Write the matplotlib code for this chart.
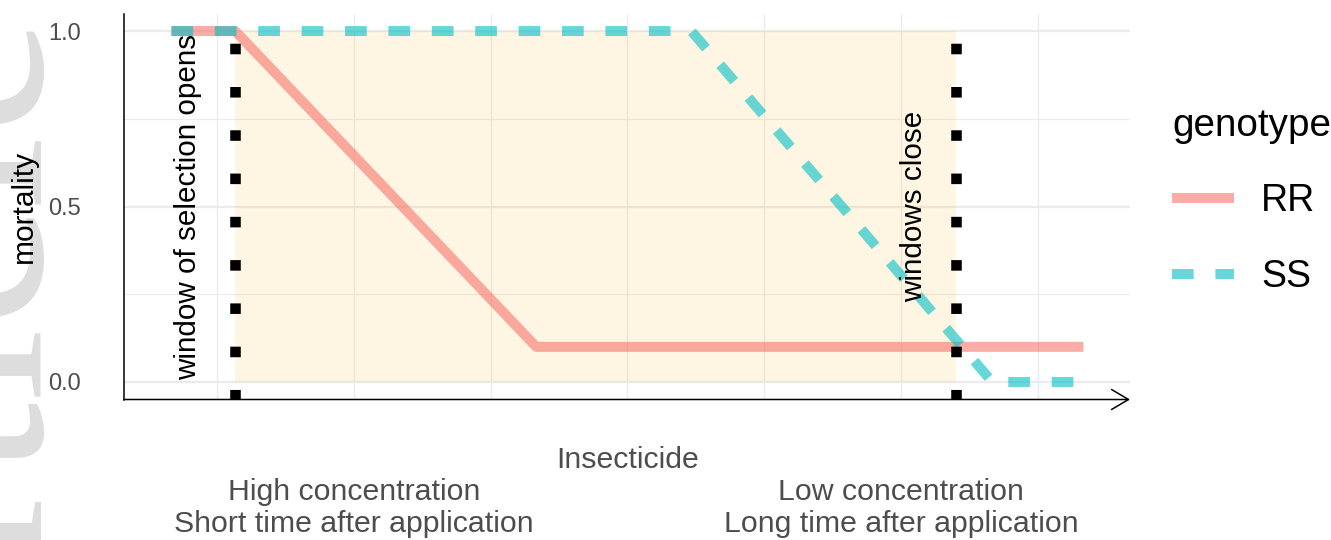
import matplotlib
matplotlib.use('Agg')
import matplotlib.pyplot as plt
import matplotlib.transforms as mtransforms
from matplotlib.patches import Rectangle

plt.rcParams['font.family'] = ['Liberation Sans', 'DejaVu Sans']

# ---------------- data ----------------
genotypes = ['RR', 'SS']
rr_x = [0, 7, 40, 100]
rr_y = [1.0, 1.0, 0.1, 0.1]
ss_x = [0, 57, 90, 100]
ss_y = [1.0, 1.0, 0.0, 0.0]
window_open = 7
window_close = 86
y_ticks = [0.0, 0.5, 1.0]
y_tick_labels = ['0.0', '0.5', '1.0']
y_minor = [0.25, 0.75]
x_grid = [5, 20, 35, 50, 65, 80, 95]
x_label_pos = [20, 80]
x_label_top = ['High concentration', 'Low concentration']
x_label_bottom = ['Short time after application', 'Long time after application']
x_title = 'Insecticide'
y_title = 'mortality'
text_open = 'window of selection opens'
text_close = 'windows close'
legend_title = 'genotype'
watermark = 'Article'

colors = {'RR': '#F8766D', 'SS': '#00BFC4'}

W, H = 1331, 540
fig = plt.figure(figsize=(W / 100, H / 100), dpi=100)

# faint watermark at the left edge
fig.text(39 / W, 1 - 13 / H, watermark, rotation=90, rotation_mode='anchor',
         ha='right', va='baseline', fontsize=192, color='#DDDDDD',
         family='Liberation Serif', zorder=0)

ax = fig.add_axes([124 / W, 1 - 399.5 / H, 1006 / W, 386 / H])
ax.patch.set_alpha(0)
ax.set_xlim(-5.2, 105.1)
ax.set_ylim(-0.05, 1.05)

# grid
ax.set_yticks(y_ticks)
ax.set_yticklabels(y_tick_labels)
ax.set_yticks(y_minor, minor=True)
ax.set_xticks(x_grid)
ax.set_xticklabels([])
ax.grid(which='major', axis='y', color='#EBEBEB', lw=1.6, zorder=0)
ax.grid(which='minor', axis='y', color='#EBEBEB', lw=0.85, zorder=0)
ax.grid(which='major', axis='x', color='#EBEBEB', lw=0.95, zorder=0)
ax.set_axisbelow(True)
ax.tick_params(axis='both', which='both', length=0)
ax.tick_params(axis='y', pad=31, labelsize=17, labelcolor='#4D4D4D')

for s in ['top', 'right', 'bottom']:
    ax.spines[s].set_visible(False)
ax.spines['left'].set_linewidth(1.1)
ax.spines['left'].set_color('black')

# x axis with arrow
ax.annotate('', xy=(1, 0), xytext=(0, 0), xycoords='axes fraction',
            textcoords='axes fraction', annotation_clip=False,
            arrowprops=dict(arrowstyle='->,head_length=1.22,head_width=0.72',
                            lw=1.1, color='black', shrinkA=0, shrinkB=0,
                            mutation_scale=10))

# selection window
ax.add_patch(Rectangle((window_open, 0), window_close - window_open, 1,
                       facecolor='orange', alpha=0.11, lw=0, zorder=1))

# curves
ax.plot(rr_x, rr_y, color=colors['RR'], alpha=0.6, lw=7.2,
        solid_capstyle='butt', solid_joinstyle='round', label='RR', zorder=3)
ax.plot(ss_x, ss_y, color=colors['SS'], alpha=0.6, lw=7.2,
        dashes=(2.17, 2.17), dash_capstyle='butt', dash_joinstyle='round',
        label='SS', zorder=3)

# window borders
for xv in [window_open, window_close]:
    ax.axvline(xv, color='black', lw=7.6, dashes=(1, 3.1),
               dash_capstyle='butt', zorder=4)

# annotations
ax.text(2.7, 0.5, text_open, rotation=90, rotation_mode='anchor',
        ha='center', va='baseline', fontsize=21.3, color='black', zorder=5)
ax.text(82.3, 0.5, text_close, rotation=90, rotation_mode='anchor',
        ha='center', va='baseline', fontsize=21.3, color='black', zorder=5)

# axis titles and labels
fig.text(32 / W, 1 - 206 / H, y_title, rotation=90, rotation_mode='anchor',
         ha='center', va='baseline', fontsize=21.5, color='black')
trans = mtransforms.blended_transform_factory(ax.transData, fig.transFigure)
ax.text(50, 1 - 468 / H, x_title, transform=trans, ha='center', va='baseline',
        fontsize=21.8, color='#4D4D4D')
for xp, t1, t2 in zip(x_label_pos, x_label_top, x_label_bottom):
    ax.text(xp, 1 - 500 / H, t1, transform=trans, ha='center', va='baseline',
            fontsize=21.8, color='#4D4D4D')
    ax.text(xp, 1 - 532 / H, t2, transform=trans, ha='center', va='baseline',
            fontsize=21.8, color='#4D4D4D')

# legend
leg = ax.legend(title=legend_title, loc='upper left',
                bbox_to_anchor=(1172 / W, 1 - 108 / H),
                bbox_transform=fig.transFigure, frameon=False,
                fontsize=27, title_fontsize=27.8, handlelength=1.66,
                handletextpad=0.72, labelspacing=1.05, borderpad=0,
                borderaxespad=0, alignment='left')

fig.savefig('out.png', dpi=100)
